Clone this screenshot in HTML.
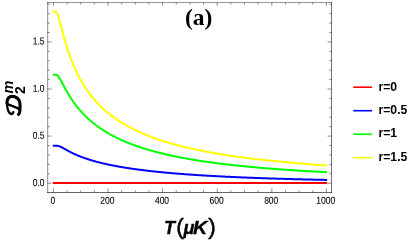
<!DOCTYPE html>
<html><head><meta charset="utf-8"><style>
html,body{margin:0;padding:0;background:#fff;}
svg{display:block;will-change:transform;}
text{font-family:"Liberation Sans",sans-serif;}
</style></head><body>
<svg width="415" height="245" viewBox="0 0 415 245">
<rect width="415" height="245" fill="#fff"/>
<g fill="none" stroke-width="2" stroke-linecap="butt" stroke-linejoin="round">
<path stroke="#ff0000" d="M52.8,183 L327.1,183"/>
<path stroke="#0000ff" d="M52.80,145.69 L53.05,145.69 L53.30,145.69 L53.55,145.69 L53.80,145.69 L54.05,145.69 L54.30,145.69 L54.55,145.69 L54.80,145.69 L55.05,145.69 L55.30,145.69 L55.55,145.69 L55.80,145.69 L56.05,145.70 L56.30,145.70 L56.55,145.71 L56.80,145.73 L57.05,145.75 L57.30,145.78 L57.55,145.81 L57.80,145.85 L58.05,145.90 L58.30,145.95 L58.55,146.02 L58.80,146.09 L59.05,146.17 L59.30,146.25 L59.55,146.34 L59.80,146.43 L60.05,146.54 L60.30,146.64 L60.55,146.75 L60.80,146.87 L61.05,146.98 L61.30,147.11 L61.55,147.23 L61.80,147.36 L62.05,147.49 L62.30,147.62 L62.55,147.75 L62.80,147.89 L63.05,148.02 L63.30,148.16 L63.55,148.30 L63.80,148.44 L64.05,148.57 L64.30,148.71 L64.55,148.85 L64.80,149.00 L65.05,149.14 L65.30,149.28 L65.55,149.42 L65.80,149.56 L66.05,149.70 L66.30,149.84 L66.55,149.97 L66.80,150.11 L67.05,150.25 L67.30,150.39 L67.55,150.53 L67.80,150.66 L68.05,150.80 L68.30,150.93 L68.55,151.07 L68.80,151.20 L69.05,151.33 L69.30,151.47 L69.55,151.60 L69.80,151.73 L70.00,151.83 L70.50,152.09 L71.00,152.34 L71.50,152.59 L72.00,152.84 L72.50,153.09 L73.00,153.33 L73.50,153.57 L74.00,153.80 L74.50,154.03 L75.00,154.26 L75.50,154.48 L76.00,154.71 L76.50,154.92 L77.00,155.14 L77.50,155.35 L78.00,155.56 L78.50,155.77 L79.00,155.97 L79.50,156.18 L80.00,156.38 L80.50,156.57 L81.00,156.77 L81.50,156.96 L82.00,157.15 L82.50,157.33 L83.00,157.52 L83.50,157.70 L84.00,157.88 L84.50,158.05 L85.00,158.23 L85.50,158.40 L86.00,158.57 L86.50,158.74 L87.00,158.91 L87.50,159.07 L88.00,159.23 L88.50,159.40 L89.00,159.55 L89.50,159.71 L90.00,159.87 L90.50,160.02 L91.00,160.17 L91.50,160.32 L92.00,160.47 L92.50,160.62 L93.00,160.76 L93.50,160.91 L94.00,161.05 L94.50,161.19 L95.00,161.33 L95.50,161.46 L96.00,161.60 L96.50,161.73 L97.00,161.87 L97.50,162.00 L98.00,162.13 L98.50,162.26 L99.00,162.39 L99.50,162.51 L100.00,162.64 L100.50,162.76 L101.00,162.88 L101.50,163.01 L102.00,163.13 L102.50,163.25 L103.00,163.36 L103.50,163.48 L104.00,163.60 L104.50,163.71 L105.00,163.82 L105.50,163.94 L106.00,164.05 L106.50,164.16 L107.00,164.27 L107.50,164.38 L108.00,164.48 L108.50,164.59 L109.00,164.70 L109.50,164.80 L110.00,164.90 L110.50,165.01 L111.00,165.11 L111.50,165.21 L112.00,165.31 L112.50,165.41 L113.00,165.51 L113.50,165.60 L114.00,165.70 L114.50,165.80 L115.00,165.89 L115.50,165.99 L116.00,166.08 L116.50,166.17 L117.00,166.26 L117.50,166.35 L118.00,166.44 L118.50,166.53 L119.00,166.62 L119.50,166.71 L120.00,166.80 L120.50,166.89 L121.00,166.97 L121.50,167.06 L122.00,167.14 L122.50,167.23 L123.00,167.31 L123.50,167.39 L124.00,167.47 L124.50,167.55 L125.00,167.64 L125.50,167.72 L126.00,167.80 L126.50,167.87 L127.00,167.95 L127.50,168.03 L128.00,168.11 L128.50,168.18 L129.00,168.26 L129.50,168.33 L130.00,168.41 L130.50,168.48 L131.00,168.56 L131.50,168.63 L132.00,168.70 L132.50,168.78 L133.00,168.85 L133.50,168.92 L134.00,168.99 L134.50,169.06 L135.00,169.13 L135.50,169.20 L136.00,169.27 L136.50,169.33 L137.00,169.40 L137.50,169.47 L138.00,169.53 L138.50,169.60 L139.00,169.67 L139.50,169.73 L140.00,169.80 L140.50,169.86 L141.00,169.92 L141.50,169.99 L142.00,170.05 L142.50,170.11 L143.00,170.18 L143.50,170.24 L144.00,170.30 L144.50,170.36 L145.00,170.42 L145.50,170.48 L146.00,170.54 L146.50,170.60 L147.00,170.66 L147.50,170.72 L148.00,170.77 L148.50,170.83 L149.00,170.89 L149.50,170.95 L150.00,171.00 L150.50,171.06 L151.00,171.12 L151.50,171.17 L152.00,171.23 L152.50,171.28 L153.00,171.34 L153.50,171.39 L154.00,171.44 L154.50,171.50 L155.00,171.55 L155.50,171.60 L156.00,171.65 L156.50,171.71 L157.00,171.76 L157.50,171.81 L158.00,171.86 L158.50,171.91 L159.00,171.96 L159.50,172.01 L160.00,172.06 L160.50,172.11 L161.00,172.16 L161.50,172.21 L162.00,172.26 L162.50,172.31 L163.00,172.35 L163.50,172.40 L164.00,172.45 L164.50,172.50 L165.00,172.54 L165.50,172.59 L166.00,172.64 L166.50,172.68 L167.00,172.73 L167.50,172.77 L168.00,172.82 L168.50,172.86 L169.00,172.91 L169.50,172.95 L170.00,173.00 L170.50,173.04 L171.00,173.08 L171.50,173.13 L172.00,173.17 L172.50,173.21 L173.00,173.26 L173.50,173.30 L174.00,173.34 L174.50,173.38 L175.00,173.42 L175.50,173.47 L176.00,173.51 L176.50,173.55 L177.00,173.59 L177.50,173.63 L178.00,173.67 L178.50,173.71 L179.00,173.75 L179.50,173.79 L180.00,173.83 L180.50,173.87 L181.00,173.91 L181.50,173.95 L182.00,173.98 L182.50,174.02 L183.00,174.06 L183.50,174.10 L184.00,174.14 L184.50,174.17 L185.00,174.21 L185.50,174.25 L186.00,174.28 L186.50,174.32 L187.00,174.36 L187.50,174.39 L188.00,174.43 L188.50,174.47 L189.00,174.50 L189.50,174.54 L190.00,174.57 L190.50,174.61 L191.00,174.64 L191.50,174.68 L192.00,174.71 L192.50,174.74 L193.00,174.78 L193.50,174.81 L194.00,174.85 L194.50,174.88 L195.00,174.91 L195.50,174.95 L196.00,174.98 L196.50,175.01 L197.00,175.05 L197.50,175.08 L198.00,175.11 L198.50,175.14 L199.00,175.17 L199.50,175.21 L200.00,175.24 L200.50,175.27 L201.00,175.30 L201.50,175.33 L202.00,175.36 L202.50,175.39 L203.00,175.42 L203.50,175.46 L204.00,175.49 L204.50,175.52 L205.00,175.55 L205.50,175.58 L206.00,175.61 L206.50,175.64 L207.00,175.66 L207.50,175.69 L208.00,175.72 L208.50,175.75 L209.00,175.78 L209.50,175.81 L210.00,175.84 L210.50,175.87 L211.00,175.90 L211.50,175.92 L212.00,175.95 L212.50,175.98 L213.00,176.01 L213.50,176.03 L214.00,176.06 L214.50,176.09 L215.00,176.12 L215.50,176.14 L216.00,176.17 L216.50,176.20 L217.00,176.22 L217.50,176.25 L218.00,176.28 L218.50,176.30 L219.00,176.33 L219.50,176.36 L220.00,176.38 L220.50,176.41 L221.00,176.43 L221.50,176.46 L222.00,176.48 L222.50,176.51 L223.00,176.53 L223.50,176.56 L224.00,176.58 L224.50,176.61 L225.00,176.63 L225.50,176.66 L226.00,176.68 L226.50,176.71 L227.00,176.73 L227.50,176.75 L228.00,176.78 L228.50,176.80 L229.00,176.83 L229.50,176.85 L230.00,176.87 L230.50,176.90 L231.00,176.92 L231.50,176.94 L232.00,176.97 L232.50,176.99 L233.00,177.01 L233.50,177.04 L234.00,177.06 L234.50,177.08 L235.00,177.10 L235.50,177.12 L236.00,177.15 L236.50,177.17 L237.00,177.19 L237.50,177.21 L238.00,177.24 L238.50,177.26 L239.00,177.28 L239.50,177.30 L240.00,177.32 L240.50,177.34 L241.00,177.36 L241.50,177.38 L242.00,177.41 L242.50,177.43 L243.00,177.45 L243.50,177.47 L244.00,177.49 L244.50,177.51 L245.00,177.53 L245.50,177.55 L246.00,177.57 L246.50,177.59 L247.00,177.61 L247.50,177.63 L248.00,177.65 L248.50,177.67 L249.00,177.69 L249.50,177.71 L250.00,177.73 L250.50,177.75 L251.00,177.77 L251.50,177.79 L252.00,177.81 L252.50,177.83 L253.00,177.85 L253.50,177.86 L254.00,177.88 L254.50,177.90 L255.00,177.92 L255.50,177.94 L256.00,177.96 L256.50,177.98 L257.00,177.99 L257.50,178.01 L258.00,178.03 L258.50,178.05 L259.00,178.07 L259.50,178.09 L260.00,178.10 L260.50,178.12 L261.00,178.14 L261.50,178.16 L262.00,178.17 L262.50,178.19 L263.00,178.21 L263.50,178.23 L264.00,178.24 L264.50,178.26 L265.00,178.28 L265.50,178.29 L266.00,178.31 L266.50,178.33 L267.00,178.35 L267.50,178.36 L268.00,178.38 L268.50,178.40 L269.00,178.41 L269.50,178.43 L270.00,178.44 L270.50,178.46 L271.00,178.48 L271.50,178.49 L272.00,178.51 L272.50,178.53 L273.00,178.54 L273.50,178.56 L274.00,178.57 L274.50,178.59 L275.00,178.61 L275.50,178.62 L276.00,178.64 L276.50,178.65 L277.00,178.67 L277.50,178.68 L278.00,178.70 L278.50,178.71 L279.00,178.73 L279.50,178.74 L280.00,178.76 L280.50,178.77 L281.00,178.79 L281.50,178.80 L282.00,178.82 L282.50,178.83 L283.00,178.85 L283.50,178.86 L284.00,178.88 L284.50,178.89 L285.00,178.91 L285.50,178.92 L286.00,178.93 L286.50,178.95 L287.00,178.96 L287.50,178.98 L288.00,178.99 L288.50,179.01 L289.00,179.02 L289.50,179.03 L290.00,179.05 L290.50,179.06 L291.00,179.07 L291.50,179.09 L292.00,179.10 L292.50,179.12 L293.00,179.13 L293.50,179.14 L294.00,179.16 L294.50,179.17 L295.00,179.18 L295.50,179.20 L296.00,179.21 L296.50,179.22 L297.00,179.24 L297.50,179.25 L298.00,179.26 L298.50,179.27 L299.00,179.29 L299.50,179.30 L300.00,179.31 L300.50,179.33 L301.00,179.34 L301.50,179.35 L302.00,179.36 L302.50,179.38 L303.00,179.39 L303.50,179.40 L304.00,179.41 L304.50,179.43 L305.00,179.44 L305.50,179.45 L306.00,179.46 L306.50,179.47 L307.00,179.49 L307.50,179.50 L308.00,179.51 L308.50,179.52 L309.00,179.53 L309.50,179.55 L310.00,179.56 L310.50,179.57 L311.00,179.58 L311.50,179.59 L312.00,179.61 L312.50,179.62 L313.00,179.63 L313.50,179.64 L314.00,179.65 L314.50,179.66 L315.00,179.67 L315.50,179.69 L316.00,179.70 L316.50,179.71 L317.00,179.72 L317.50,179.73 L318.00,179.74 L318.50,179.75 L319.00,179.76 L319.50,179.77 L320.00,179.79 L320.50,179.80 L321.00,179.81 L321.50,179.82 L322.00,179.83 L322.50,179.84 L323.00,179.85 L323.50,179.86 L324.00,179.87 L324.50,179.88 L325.00,179.89 L325.50,179.90 L326.00,179.91 L326.50,179.92 L327.00,179.93 L327.10,179.94"/>
<path stroke="#00ff00" d="M52.80,74.67 L53.05,74.67 L53.30,74.67 L53.55,74.67 L53.80,74.67 L54.05,74.67 L54.30,74.67 L54.55,74.67 L54.80,74.67 L55.05,74.67 L55.30,74.67 L55.55,74.69 L55.80,74.71 L56.05,74.76 L56.30,74.83 L56.55,74.92 L56.80,75.05 L57.05,75.20 L57.30,75.39 L57.55,75.61 L57.80,75.85 L58.05,76.13 L58.30,76.43 L58.55,76.75 L58.80,77.09 L59.05,77.46 L59.30,77.84 L59.55,78.23 L59.80,78.64 L60.05,79.06 L60.30,79.49 L60.55,79.93 L60.80,80.38 L61.05,80.83 L61.30,81.29 L61.55,81.75 L61.80,82.21 L62.05,82.68 L62.30,83.15 L62.55,83.62 L62.80,84.09 L63.05,84.56 L63.30,85.03 L63.55,85.50 L63.80,85.97 L64.05,86.44 L64.30,86.90 L64.55,87.37 L64.80,87.83 L65.05,88.29 L65.30,88.74 L65.55,89.20 L65.80,89.65 L66.05,90.09 L66.30,90.54 L66.55,90.98 L66.80,91.42 L67.05,91.86 L67.30,92.29 L67.55,92.72 L67.80,93.15 L68.05,93.57 L68.30,93.99 L68.55,94.40 L68.80,94.82 L69.05,95.23 L69.30,95.63 L69.55,96.04 L69.80,96.44 L70.00,96.76 L70.50,97.54 L71.00,98.31 L71.50,99.07 L72.00,99.82 L72.50,100.56 L73.00,101.28 L73.50,101.99 L74.00,102.69 L74.50,103.38 L75.00,104.06 L75.50,104.73 L76.00,105.38 L76.50,106.03 L77.00,106.66 L77.50,107.29 L78.00,107.91 L78.50,108.51 L79.00,109.11 L79.50,109.70 L80.00,110.28 L80.50,110.85 L81.00,111.42 L81.50,111.97 L82.00,112.52 L82.50,113.06 L83.00,113.59 L83.50,114.11 L84.00,114.63 L84.50,115.14 L85.00,115.64 L85.50,116.14 L86.00,116.63 L86.50,117.11 L87.00,117.59 L87.50,118.06 L88.00,118.52 L88.50,118.98 L89.00,119.43 L89.50,119.87 L90.00,120.31 L90.50,120.75 L91.00,121.18 L91.50,121.60 L92.00,122.02 L92.50,122.43 L93.00,122.84 L93.50,123.24 L94.00,123.64 L94.50,124.04 L95.00,124.42 L95.50,124.81 L96.00,125.19 L96.50,125.56 L97.00,125.93 L97.50,126.30 L98.00,126.66 L98.50,127.02 L99.00,127.38 L99.50,127.73 L100.00,128.07 L100.50,128.42 L101.00,128.76 L101.50,129.09 L102.00,129.42 L102.50,129.75 L103.00,130.08 L103.50,130.40 L104.00,130.71 L104.50,131.03 L105.00,131.34 L105.50,131.65 L106.00,131.95 L106.50,132.25 L107.00,132.55 L107.50,132.85 L108.00,133.14 L108.50,133.43 L109.00,133.71 L109.50,134.00 L110.00,134.28 L110.50,134.56 L111.00,134.83 L111.50,135.10 L112.00,135.37 L112.50,135.64 L113.00,135.91 L113.50,136.17 L114.00,136.43 L114.50,136.69 L115.00,136.94 L115.50,137.19 L116.00,137.44 L116.50,137.69 L117.00,137.94 L117.50,138.18 L118.00,138.42 L118.50,138.66 L119.00,138.90 L119.50,139.13 L120.00,139.36 L120.50,139.59 L121.00,139.82 L121.50,140.05 L122.00,140.27 L122.50,140.49 L123.00,140.71 L123.50,140.93 L124.00,141.15 L124.50,141.36 L125.00,141.58 L125.50,141.79 L126.00,142.00 L126.50,142.20 L127.00,142.41 L127.50,142.61 L128.00,142.82 L128.50,143.02 L129.00,143.22 L129.50,143.41 L130.00,143.61 L130.50,143.80 L131.00,143.99 L131.50,144.18 L132.00,144.37 L132.50,144.56 L133.00,144.75 L133.50,144.93 L134.00,145.12 L134.50,145.30 L135.00,145.48 L135.50,145.66 L136.00,145.83 L136.50,146.01 L137.00,146.18 L137.50,146.36 L138.00,146.53 L138.50,146.70 L139.00,146.87 L139.50,147.04 L140.00,147.20 L140.50,147.37 L141.00,147.53 L141.50,147.70 L142.00,147.86 L142.50,148.02 L143.00,148.18 L143.50,148.34 L144.00,148.49 L144.50,148.65 L145.00,148.80 L145.50,148.96 L146.00,149.11 L146.50,149.26 L147.00,149.41 L147.50,149.56 L148.00,149.71 L148.50,149.86 L149.00,150.00 L149.50,150.15 L150.00,150.29 L150.50,150.43 L151.00,150.58 L151.50,150.72 L152.00,150.86 L152.50,150.99 L153.00,151.13 L153.50,151.27 L154.00,151.41 L154.50,151.54 L155.00,151.67 L155.50,151.81 L156.00,151.94 L156.50,152.07 L157.00,152.20 L157.50,152.33 L158.00,152.46 L158.50,152.59 L159.00,152.71 L159.50,152.84 L160.00,152.97 L160.50,153.09 L161.00,153.21 L161.50,153.34 L162.00,153.46 L162.50,153.58 L163.00,153.70 L163.50,153.82 L164.00,153.94 L164.50,154.06 L165.00,154.17 L165.50,154.29 L166.00,154.40 L166.50,154.52 L167.00,154.63 L167.50,154.75 L168.00,154.86 L168.50,154.97 L169.00,155.08 L169.50,155.19 L170.00,155.30 L170.50,155.41 L171.00,155.52 L171.50,155.63 L172.00,155.74 L172.50,155.84 L173.00,155.95 L173.50,156.05 L174.00,156.16 L174.50,156.26 L175.00,156.37 L175.50,156.47 L176.00,156.57 L176.50,156.67 L177.00,156.77 L177.50,156.87 L178.00,156.97 L178.50,157.07 L179.00,157.17 L179.50,157.27 L180.00,157.36 L180.50,157.46 L181.00,157.56 L181.50,157.65 L182.00,157.75 L182.50,157.84 L183.00,157.93 L183.50,158.03 L184.00,158.12 L184.50,158.21 L185.00,158.30 L185.50,158.39 L186.00,158.48 L186.50,158.57 L187.00,158.66 L187.50,158.75 L188.00,158.84 L188.50,158.93 L189.00,159.02 L189.50,159.10 L190.00,159.19 L190.50,159.28 L191.00,159.36 L191.50,159.45 L192.00,159.53 L192.50,159.61 L193.00,159.70 L193.50,159.78 L194.00,159.86 L194.50,159.95 L195.00,160.03 L195.50,160.11 L196.00,160.19 L196.50,160.27 L197.00,160.35 L197.50,160.43 L198.00,160.51 L198.50,160.59 L199.00,160.66 L199.50,160.74 L200.00,160.82 L200.50,160.90 L201.00,160.97 L201.50,161.05 L202.00,161.12 L202.50,161.20 L203.00,161.27 L203.50,161.35 L204.00,161.42 L204.50,161.50 L205.00,161.57 L205.50,161.64 L206.00,161.71 L206.50,161.79 L207.00,161.86 L207.50,161.93 L208.00,162.00 L208.50,162.07 L209.00,162.14 L209.50,162.21 L210.00,162.28 L210.50,162.35 L211.00,162.42 L211.50,162.48 L212.00,162.55 L212.50,162.62 L213.00,162.69 L213.50,162.75 L214.00,162.82 L214.50,162.89 L215.00,162.95 L215.50,163.02 L216.00,163.08 L216.50,163.15 L217.00,163.21 L217.50,163.28 L218.00,163.34 L218.50,163.41 L219.00,163.47 L219.50,163.53 L220.00,163.59 L220.50,163.66 L221.00,163.72 L221.50,163.78 L222.00,163.84 L222.50,163.90 L223.00,163.96 L223.50,164.02 L224.00,164.08 L224.50,164.14 L225.00,164.20 L225.50,164.26 L226.00,164.32 L226.50,164.38 L227.00,164.44 L227.50,164.50 L228.00,164.56 L228.50,164.61 L229.00,164.67 L229.50,164.73 L230.00,164.78 L230.50,164.84 L231.00,164.90 L231.50,164.95 L232.00,165.01 L232.50,165.06 L233.00,165.12 L233.50,165.17 L234.00,165.23 L234.50,165.28 L235.00,165.34 L235.50,165.39 L236.00,165.44 L236.50,165.50 L237.00,165.55 L237.50,165.60 L238.00,165.66 L238.50,165.71 L239.00,165.76 L239.50,165.81 L240.00,165.86 L240.50,165.92 L241.00,165.97 L241.50,166.02 L242.00,166.07 L242.50,166.12 L243.00,166.17 L243.50,166.22 L244.00,166.27 L244.50,166.32 L245.00,166.37 L245.50,166.42 L246.00,166.47 L246.50,166.52 L247.00,166.56 L247.50,166.61 L248.00,166.66 L248.50,166.71 L249.00,166.76 L249.50,166.80 L250.00,166.85 L250.50,166.90 L251.00,166.94 L251.50,166.99 L252.00,167.04 L252.50,167.08 L253.00,167.13 L253.50,167.17 L254.00,167.22 L254.50,167.26 L255.00,167.31 L255.50,167.35 L256.00,167.40 L256.50,167.44 L257.00,167.49 L257.50,167.53 L258.00,167.58 L258.50,167.62 L259.00,167.66 L259.50,167.71 L260.00,167.75 L260.50,167.79 L261.00,167.84 L261.50,167.88 L262.00,167.92 L262.50,167.96 L263.00,168.01 L263.50,168.05 L264.00,168.09 L264.50,168.13 L265.00,168.17 L265.50,168.21 L266.00,168.25 L266.50,168.29 L267.00,168.34 L267.50,168.38 L268.00,168.42 L268.50,168.46 L269.00,168.50 L269.50,168.54 L270.00,168.58 L270.50,168.62 L271.00,168.65 L271.50,168.69 L272.00,168.73 L272.50,168.77 L273.00,168.81 L273.50,168.85 L274.00,168.89 L274.50,168.93 L275.00,168.96 L275.50,169.00 L276.00,169.04 L276.50,169.08 L277.00,169.11 L277.50,169.15 L278.00,169.19 L278.50,169.23 L279.00,169.26 L279.50,169.30 L280.00,169.34 L280.50,169.37 L281.00,169.41 L281.50,169.44 L282.00,169.48 L282.50,169.52 L283.00,169.55 L283.50,169.59 L284.00,169.62 L284.50,169.66 L285.00,169.69 L285.50,169.73 L286.00,169.76 L286.50,169.80 L287.00,169.83 L287.50,169.87 L288.00,169.90 L288.50,169.93 L289.00,169.97 L289.50,170.00 L290.00,170.04 L290.50,170.07 L291.00,170.10 L291.50,170.14 L292.00,170.17 L292.50,170.20 L293.00,170.23 L293.50,170.27 L294.00,170.30 L294.50,170.33 L295.00,170.37 L295.50,170.40 L296.00,170.43 L296.50,170.46 L297.00,170.49 L297.50,170.53 L298.00,170.56 L298.50,170.59 L299.00,170.62 L299.50,170.65 L300.00,170.68 L300.50,170.71 L301.00,170.74 L301.50,170.78 L302.00,170.81 L302.50,170.84 L303.00,170.87 L303.50,170.90 L304.00,170.93 L304.50,170.96 L305.00,170.99 L305.50,171.02 L306.00,171.05 L306.50,171.08 L307.00,171.11 L307.50,171.14 L308.00,171.17 L308.50,171.19 L309.00,171.22 L309.50,171.25 L310.00,171.28 L310.50,171.31 L311.00,171.34 L311.50,171.37 L312.00,171.40 L312.50,171.42 L313.00,171.45 L313.50,171.48 L314.00,171.51 L314.50,171.54 L315.00,171.57 L315.50,171.59 L316.00,171.62 L316.50,171.65 L317.00,171.68 L317.50,171.70 L318.00,171.73 L318.50,171.76 L319.00,171.78 L319.50,171.81 L320.00,171.84 L320.50,171.87 L321.00,171.89 L321.50,171.92 L322.00,171.94 L322.50,171.97 L323.00,172.00 L323.50,172.02 L324.00,172.05 L324.50,172.08 L325.00,172.10 L325.50,172.13 L326.00,172.15 L326.50,172.18 L327.00,172.20 L327.10,172.21"/>
<path stroke="#ffff00" d="M52.80,11.59 L53.05,11.59 L53.30,11.59 L53.55,11.59 L53.80,11.59 L54.05,11.59 L54.30,11.59 L54.55,11.59 L54.80,11.59 L55.05,11.60 L55.30,11.63 L55.55,11.68 L55.80,11.78 L56.05,11.94 L56.30,12.16 L56.55,12.46 L56.80,12.83 L57.05,13.27 L57.30,13.79 L57.55,14.36 L57.80,15.00 L58.05,15.69 L58.30,16.43 L58.55,17.22 L58.80,18.03 L59.05,18.88 L59.30,19.76 L59.55,20.65 L59.80,21.56 L60.05,22.49 L60.30,23.43 L60.55,24.37 L60.80,25.33 L61.05,26.28 L61.30,27.23 L61.55,28.19 L61.80,29.14 L62.05,30.09 L62.30,31.04 L62.55,31.98 L62.80,32.92 L63.05,33.84 L63.30,34.77 L63.55,35.68 L63.80,36.59 L64.05,37.49 L64.30,38.38 L64.55,39.26 L64.80,40.13 L65.05,40.99 L65.30,41.85 L65.55,42.69 L65.80,43.53 L66.05,44.36 L66.30,45.17 L66.55,45.98 L66.80,46.78 L67.05,47.57 L67.30,48.35 L67.55,49.13 L67.80,49.89 L68.05,50.65 L68.30,51.39 L68.55,52.13 L68.80,52.86 L69.05,53.58 L69.30,54.30 L69.55,55.00 L69.80,55.70 L70.00,56.25 L70.50,57.61 L71.00,58.94 L71.50,60.24 L72.00,61.51 L72.50,62.76 L73.00,63.97 L73.50,65.17 L74.00,66.33 L74.50,67.48 L75.00,68.60 L75.50,69.69 L76.00,70.77 L76.50,71.82 L77.00,72.85 L77.50,73.87 L78.00,74.86 L78.50,75.84 L79.00,76.79 L79.50,77.73 L80.00,78.65 L80.50,79.56 L81.00,80.45 L81.50,81.32 L82.00,82.18 L82.50,83.02 L83.00,83.85 L83.50,84.66 L84.00,85.47 L84.50,86.25 L85.00,87.03 L85.50,87.79 L86.00,88.54 L86.50,89.28 L87.00,90.00 L87.50,90.72 L88.00,91.42 L88.50,92.11 L89.00,92.80 L89.50,93.47 L90.00,94.13 L90.50,94.78 L91.00,95.43 L91.50,96.06 L92.00,96.68 L92.50,97.30 L93.00,97.91 L93.50,98.50 L94.00,99.09 L94.50,99.68 L95.00,100.25 L95.50,100.81 L96.00,101.37 L96.50,101.92 L97.00,102.47 L97.50,103.00 L98.00,103.53 L98.50,104.06 L99.00,104.57 L99.50,105.08 L100.00,105.58 L100.50,106.08 L101.00,106.57 L101.50,107.05 L102.00,107.53 L102.50,108.00 L103.00,108.47 L103.50,108.93 L104.00,109.39 L104.50,109.84 L105.00,110.28 L105.50,110.72 L106.00,111.16 L106.50,111.59 L107.00,112.01 L107.50,112.43 L108.00,112.85 L108.50,113.26 L109.00,113.66 L109.50,114.06 L110.00,114.46 L110.50,114.85 L111.00,115.24 L111.50,115.62 L112.00,116.00 L112.50,116.38 L113.00,116.75 L113.50,117.12 L114.00,117.48 L114.50,117.84 L115.00,118.20 L115.50,118.55 L116.00,118.90 L116.50,119.25 L117.00,119.59 L117.50,119.93 L118.00,120.26 L118.50,120.59 L119.00,120.92 L119.50,121.25 L120.00,121.57 L120.50,121.89 L121.00,122.20 L121.50,122.52 L122.00,122.83 L122.50,123.13 L123.00,123.44 L123.50,123.74 L124.00,124.04 L124.50,124.33 L125.00,124.62 L125.50,124.91 L126.00,125.20 L126.50,125.48 L127.00,125.77 L127.50,126.05 L128.00,126.32 L128.50,126.60 L129.00,126.87 L129.50,127.14 L130.00,127.41 L130.50,127.67 L131.00,127.93 L131.50,128.19 L132.00,128.45 L132.50,128.71 L133.00,128.96 L133.50,129.21 L134.00,129.46 L134.50,129.71 L135.00,129.95 L135.50,130.19 L136.00,130.43 L136.50,130.67 L137.00,130.91 L137.50,131.15 L138.00,131.38 L138.50,131.61 L139.00,131.84 L139.50,132.06 L140.00,132.29 L140.50,132.51 L141.00,132.74 L141.50,132.96 L142.00,133.17 L142.50,133.39 L143.00,133.60 L143.50,133.82 L144.00,134.03 L144.50,134.24 L145.00,134.45 L145.50,134.65 L146.00,134.86 L146.50,135.06 L147.00,135.26 L147.50,135.46 L148.00,135.66 L148.50,135.86 L149.00,136.05 L149.50,136.25 L150.00,136.44 L150.50,136.63 L151.00,136.82 L151.50,137.01 L152.00,137.20 L152.50,137.38 L153.00,137.57 L153.50,137.75 L154.00,137.93 L154.50,138.11 L155.00,138.29 L155.50,138.47 L156.00,138.64 L156.50,138.82 L157.00,138.99 L157.50,139.17 L158.00,139.34 L158.50,139.51 L159.00,139.68 L159.50,139.85 L160.00,140.01 L160.50,140.18 L161.00,140.34 L161.50,140.51 L162.00,140.67 L162.50,140.83 L163.00,140.99 L163.50,141.15 L164.00,141.31 L164.50,141.46 L165.00,141.62 L165.50,141.77 L166.00,141.93 L166.50,142.08 L167.00,142.23 L167.50,142.38 L168.00,142.53 L168.50,142.68 L169.00,142.83 L169.50,142.97 L170.00,143.12 L170.50,143.26 L171.00,143.41 L171.50,143.55 L172.00,143.69 L172.50,143.83 L173.00,143.97 L173.50,144.11 L174.00,144.25 L174.50,144.39 L175.00,144.52 L175.50,144.66 L176.00,144.80 L176.50,144.93 L177.00,145.06 L177.50,145.19 L178.00,145.33 L178.50,145.46 L179.00,145.59 L179.50,145.72 L180.00,145.84 L180.50,145.97 L181.00,146.10 L181.50,146.22 L182.00,146.35 L182.50,146.47 L183.00,146.60 L183.50,146.72 L184.00,146.84 L184.50,146.97 L185.00,147.09 L185.50,147.21 L186.00,147.33 L186.50,147.44 L187.00,147.56 L187.50,147.68 L188.00,147.80 L188.50,147.91 L189.00,148.03 L189.50,148.14 L190.00,148.26 L190.50,148.37 L191.00,148.48 L191.50,148.59 L192.00,148.71 L192.50,148.82 L193.00,148.93 L193.50,149.04 L194.00,149.14 L194.50,149.25 L195.00,149.36 L195.50,149.47 L196.00,149.57 L196.50,149.68 L197.00,149.78 L197.50,149.89 L198.00,149.99 L198.50,150.10 L199.00,150.20 L199.50,150.30 L200.00,150.40 L200.50,150.50 L201.00,150.61 L201.50,150.71 L202.00,150.81 L202.50,150.90 L203.00,151.00 L203.50,151.10 L204.00,151.20 L204.50,151.30 L205.00,151.39 L205.50,151.49 L206.00,151.58 L206.50,151.68 L207.00,151.77 L207.50,151.87 L208.00,151.96 L208.50,152.05 L209.00,152.14 L209.50,152.24 L210.00,152.33 L210.50,152.42 L211.00,152.51 L211.50,152.60 L212.00,152.69 L212.50,152.78 L213.00,152.87 L213.50,152.96 L214.00,153.04 L214.50,153.13 L215.00,153.22 L215.50,153.30 L216.00,153.39 L216.50,153.48 L217.00,153.56 L217.50,153.65 L218.00,153.73 L218.50,153.81 L219.00,153.90 L219.50,153.98 L220.00,154.06 L220.50,154.14 L221.00,154.23 L221.50,154.31 L222.00,154.39 L222.50,154.47 L223.00,154.55 L223.50,154.63 L224.00,154.71 L224.50,154.79 L225.00,154.87 L225.50,154.94 L226.00,155.02 L226.50,155.10 L227.00,155.18 L227.50,155.25 L228.00,155.33 L228.50,155.41 L229.00,155.48 L229.50,155.56 L230.00,155.63 L230.50,155.71 L231.00,155.78 L231.50,155.86 L232.00,155.93 L232.50,156.00 L233.00,156.07 L233.50,156.15 L234.00,156.22 L234.50,156.29 L235.00,156.36 L235.50,156.43 L236.00,156.50 L236.50,156.58 L237.00,156.65 L237.50,156.72 L238.00,156.78 L238.50,156.85 L239.00,156.92 L239.50,156.99 L240.00,157.06 L240.50,157.13 L241.00,157.20 L241.50,157.26 L242.00,157.33 L242.50,157.40 L243.00,157.46 L243.50,157.53 L244.00,157.60 L244.50,157.66 L245.00,157.73 L245.50,157.79 L246.00,157.86 L246.50,157.92 L247.00,157.98 L247.50,158.05 L248.00,158.11 L248.50,158.17 L249.00,158.24 L249.50,158.30 L250.00,158.36 L250.50,158.43 L251.00,158.49 L251.50,158.55 L252.00,158.61 L252.50,158.67 L253.00,158.73 L253.50,158.79 L254.00,158.85 L254.50,158.91 L255.00,158.97 L255.50,159.03 L256.00,159.09 L256.50,159.15 L257.00,159.21 L257.50,159.27 L258.00,159.33 L258.50,159.38 L259.00,159.44 L259.50,159.50 L260.00,159.56 L260.50,159.61 L261.00,159.67 L261.50,159.73 L262.00,159.78 L262.50,159.84 L263.00,159.90 L263.50,159.95 L264.00,160.01 L264.50,160.06 L265.00,160.12 L265.50,160.17 L266.00,160.23 L266.50,160.28 L267.00,160.34 L267.50,160.39 L268.00,160.44 L268.50,160.50 L269.00,160.55 L269.50,160.60 L270.00,160.66 L270.50,160.71 L271.00,160.76 L271.50,160.81 L272.00,160.86 L272.50,160.92 L273.00,160.97 L273.50,161.02 L274.00,161.07 L274.50,161.12 L275.00,161.17 L275.50,161.22 L276.00,161.27 L276.50,161.32 L277.00,161.37 L277.50,161.42 L278.00,161.47 L278.50,161.52 L279.00,161.57 L279.50,161.62 L280.00,161.67 L280.50,161.72 L281.00,161.76 L281.50,161.81 L282.00,161.86 L282.50,161.91 L283.00,161.96 L283.50,162.00 L284.00,162.05 L284.50,162.10 L285.00,162.14 L285.50,162.19 L286.00,162.24 L286.50,162.28 L287.00,162.33 L287.50,162.38 L288.00,162.42 L288.50,162.47 L289.00,162.51 L289.50,162.56 L290.00,162.60 L290.50,162.65 L291.00,162.69 L291.50,162.74 L292.00,162.78 L292.50,162.83 L293.00,162.87 L293.50,162.92 L294.00,162.96 L294.50,163.00 L295.00,163.05 L295.50,163.09 L296.00,163.13 L296.50,163.18 L297.00,163.22 L297.50,163.26 L298.00,163.30 L298.50,163.35 L299.00,163.39 L299.50,163.43 L300.00,163.47 L300.50,163.51 L301.00,163.56 L301.50,163.60 L302.00,163.64 L302.50,163.68 L303.00,163.72 L303.50,163.76 L304.00,163.80 L304.50,163.84 L305.00,163.88 L305.50,163.92 L306.00,163.96 L306.50,164.00 L307.00,164.04 L307.50,164.08 L308.00,164.12 L308.50,164.16 L309.00,164.20 L309.50,164.24 L310.00,164.28 L310.50,164.32 L311.00,164.36 L311.50,164.40 L312.00,164.43 L312.50,164.47 L313.00,164.51 L313.50,164.55 L314.00,164.59 L314.50,164.62 L315.00,164.66 L315.50,164.70 L316.00,164.74 L316.50,164.77 L317.00,164.81 L317.50,164.85 L318.00,164.89 L318.50,164.92 L319.00,164.96 L319.50,165.00 L320.00,165.03 L320.50,165.07 L321.00,165.10 L321.50,165.14 L322.00,165.18 L322.50,165.21 L323.00,165.25 L323.50,165.28 L324.00,165.32 L324.50,165.35 L325.00,165.39 L325.50,165.42 L326.00,165.46 L326.50,165.49 L327.00,165.53 L327.10,165.54"/>
</g>
<g stroke="#000" stroke-width="1" stroke-linecap="square">
<line x1="47.5" y1="2.5" x2="331.5" y2="2.5" stroke-opacity="0.42"/>
<line x1="47.7" y1="2.5" x2="47.7" y2="192.5" stroke-opacity="0.45"/>
<line x1="47.5" y1="192.5" x2="331.5" y2="192.5" stroke-opacity="0.6"/>
<line x1="331.5" y1="2.5" x2="331.5" y2="192.5" stroke-opacity="0.55"/>
</g>
<g stroke="#000" stroke-opacity="0.5" stroke-width="0.9"><line x1="53.40" y1="192.5" x2="53.40" y2="188.5"/><line x1="53.40" y1="2.5" x2="53.40" y2="5.9"/><line x1="67.05" y1="192.5" x2="67.05" y2="190.3"/><line x1="67.05" y1="2.5" x2="67.05" y2="4.5"/><line x1="80.70" y1="192.5" x2="80.70" y2="190.3"/><line x1="80.70" y1="2.5" x2="80.70" y2="4.5"/><line x1="94.35" y1="192.5" x2="94.35" y2="190.3"/><line x1="94.35" y1="2.5" x2="94.35" y2="4.5"/><line x1="108.00" y1="192.5" x2="108.00" y2="188.5"/><line x1="108.00" y1="2.5" x2="108.00" y2="5.9"/><line x1="121.65" y1="192.5" x2="121.65" y2="190.3"/><line x1="121.65" y1="2.5" x2="121.65" y2="4.5"/><line x1="135.30" y1="192.5" x2="135.30" y2="190.3"/><line x1="135.30" y1="2.5" x2="135.30" y2="4.5"/><line x1="148.95" y1="192.5" x2="148.95" y2="190.3"/><line x1="148.95" y1="2.5" x2="148.95" y2="4.5"/><line x1="162.60" y1="192.5" x2="162.60" y2="188.5"/><line x1="162.60" y1="2.5" x2="162.60" y2="5.9"/><line x1="176.25" y1="192.5" x2="176.25" y2="190.3"/><line x1="176.25" y1="2.5" x2="176.25" y2="4.5"/><line x1="189.90" y1="192.5" x2="189.90" y2="190.3"/><line x1="189.90" y1="2.5" x2="189.90" y2="4.5"/><line x1="203.55" y1="192.5" x2="203.55" y2="190.3"/><line x1="203.55" y1="2.5" x2="203.55" y2="4.5"/><line x1="217.20" y1="192.5" x2="217.20" y2="188.5"/><line x1="217.20" y1="2.5" x2="217.20" y2="5.9"/><line x1="230.85" y1="192.5" x2="230.85" y2="190.3"/><line x1="230.85" y1="2.5" x2="230.85" y2="4.5"/><line x1="244.50" y1="192.5" x2="244.50" y2="190.3"/><line x1="244.50" y1="2.5" x2="244.50" y2="4.5"/><line x1="258.15" y1="192.5" x2="258.15" y2="190.3"/><line x1="258.15" y1="2.5" x2="258.15" y2="4.5"/><line x1="271.80" y1="192.5" x2="271.80" y2="188.5"/><line x1="271.80" y1="2.5" x2="271.80" y2="5.9"/><line x1="285.45" y1="192.5" x2="285.45" y2="190.3"/><line x1="285.45" y1="2.5" x2="285.45" y2="4.5"/><line x1="299.10" y1="192.5" x2="299.10" y2="190.3"/><line x1="299.10" y1="2.5" x2="299.10" y2="4.5"/><line x1="312.75" y1="192.5" x2="312.75" y2="190.3"/><line x1="312.75" y1="2.5" x2="312.75" y2="4.5"/><line x1="326.40" y1="192.5" x2="326.40" y2="188.5"/><line x1="326.40" y1="2.5" x2="326.40" y2="5.9"/><line x1="47.5" y1="183.20" x2="51.5" y2="183.20"/><line x1="331.5" y1="183.20" x2="327.5" y2="183.20"/><line x1="47.5" y1="173.78" x2="49.7" y2="173.78"/><line x1="331.5" y1="173.78" x2="329.3" y2="173.78"/><line x1="47.5" y1="164.36" x2="49.7" y2="164.36"/><line x1="331.5" y1="164.36" x2="329.3" y2="164.36"/><line x1="47.5" y1="154.94" x2="49.7" y2="154.94"/><line x1="331.5" y1="154.94" x2="329.3" y2="154.94"/><line x1="47.5" y1="145.52" x2="49.7" y2="145.52"/><line x1="331.5" y1="145.52" x2="329.3" y2="145.52"/><line x1="47.5" y1="136.10" x2="51.5" y2="136.10"/><line x1="331.5" y1="136.10" x2="327.5" y2="136.10"/><line x1="47.5" y1="126.68" x2="49.7" y2="126.68"/><line x1="331.5" y1="126.68" x2="329.3" y2="126.68"/><line x1="47.5" y1="117.26" x2="49.7" y2="117.26"/><line x1="331.5" y1="117.26" x2="329.3" y2="117.26"/><line x1="47.5" y1="107.84" x2="49.7" y2="107.84"/><line x1="331.5" y1="107.84" x2="329.3" y2="107.84"/><line x1="47.5" y1="98.42" x2="49.7" y2="98.42"/><line x1="331.5" y1="98.42" x2="329.3" y2="98.42"/><line x1="47.5" y1="89.00" x2="51.5" y2="89.00"/><line x1="331.5" y1="89.00" x2="327.5" y2="89.00"/><line x1="47.5" y1="79.58" x2="49.7" y2="79.58"/><line x1="331.5" y1="79.58" x2="329.3" y2="79.58"/><line x1="47.5" y1="70.16" x2="49.7" y2="70.16"/><line x1="331.5" y1="70.16" x2="329.3" y2="70.16"/><line x1="47.5" y1="60.74" x2="49.7" y2="60.74"/><line x1="331.5" y1="60.74" x2="329.3" y2="60.74"/><line x1="47.5" y1="51.32" x2="49.7" y2="51.32"/><line x1="331.5" y1="51.32" x2="329.3" y2="51.32"/><line x1="47.5" y1="41.90" x2="51.5" y2="41.90"/><line x1="331.5" y1="41.90" x2="327.5" y2="41.90"/><line x1="47.5" y1="32.48" x2="49.7" y2="32.48"/><line x1="331.5" y1="32.48" x2="329.3" y2="32.48"/><line x1="47.5" y1="23.06" x2="49.7" y2="23.06"/><line x1="331.5" y1="23.06" x2="329.3" y2="23.06"/><line x1="47.5" y1="13.64" x2="49.7" y2="13.64"/><line x1="331.5" y1="13.64" x2="329.3" y2="13.64"/><line x1="47.5" y1="4.22" x2="49.7" y2="4.22"/><line x1="331.5" y1="4.22" x2="329.3" y2="4.22"/></g>
<g font-size="10.1" fill="#000" stroke="#000" stroke-width="0.1" text-rendering="geometricPrecision"><text transform="translate(52.8,203.7) scale(0.84,1) rotate(0.03)" text-anchor="middle">0</text><text transform="translate(107.4,203.7) scale(0.84,1) rotate(0.03)" text-anchor="middle">200</text><text transform="translate(162.0,203.7) scale(0.84,1) rotate(0.03)" text-anchor="middle">400</text><text transform="translate(216.6,203.7) scale(0.84,1) rotate(0.03)" text-anchor="middle">600</text><text transform="translate(271.2,203.7) scale(0.84,1) rotate(0.03)" text-anchor="middle">800</text><text transform="translate(325.8,203.7) scale(0.84,1) rotate(0.03)" text-anchor="middle">1000</text><text transform="translate(44.5,185.9) scale(0.84,1) rotate(0.03)" text-anchor="end">0.0</text><text transform="translate(44.5,138.8) scale(0.84,1) rotate(0.03)" text-anchor="end">0.5</text><text transform="translate(44.5,91.7) scale(0.84,1) rotate(0.03)" text-anchor="end">1.0</text><text transform="translate(44.5,44.6) scale(0.84,1) rotate(0.03)" text-anchor="end">1.5</text></g>
<text x="198.6" y="24.6" text-anchor="middle" font-size="23.5" font-weight="bold" style="font-family:'Liberation Serif',serif">(a)</text>
<g font-weight="bold" font-style="italic" font-size="18" fill="#000" stroke="#000" stroke-width="0.35">
<text transform="translate(164.0,234.0)">T</text>
<text transform="translate(176.2,234.4)" font-size="22.5" font-style="normal" font-weight="normal" stroke-width="0.5">(</text>
<text transform="translate(183.6,234.0)">μ</text>
<text transform="translate(193.0,234.0) scale(1.1,1)">K</text>
<text transform="translate(208.2,234.4)" font-size="22.5" font-style="normal" font-weight="normal" stroke-width="0.5">)</text>
</g>
<g transform="translate(5.1,116) rotate(-90)">

<g fill="none" stroke="#000" stroke-linecap="round" stroke-linejoin="round" transform="translate(0.5,1.1) scale(0.92,0.87)">
<path stroke-width="2.6" d="M3.6,8.2 C2.2,7.8 1.4,6.6 1.8,5.4 C2.4,3.4 4.8,2.2 7,1.7 C9.4,1.1 11.6,0.9 13.4,0.9"/>
<path stroke-width="3.6" d="M13.4,0.9 C16.8,0.9 19.4,2.2 20.3,4.6 C21.2,7 20.8,10 19,12.6 C17.2,15 14.4,15.9 11.4,15.9 L5,15.7 C3.2,15.6 1.8,15.2 1.3,14.2"/>
<path stroke-width="2.6" d="M12.2,2.2 L8.2,12.4 C7.8,13.6 7.2,14.8 6.2,15.5"/>
</g>

<text x="22.4" y="7.6" font-size="14.6" font-weight="bold" font-style="italic">m</text>
<text x="22.0" y="20.4" font-size="14" font-weight="bold">2</text>
</g>
<g stroke-width="1.6">
<line x1="353.2" y1="87.2" x2="372.1" y2="87.2" stroke="#ff0000"/>
<line x1="353.2" y1="110.7" x2="372.1" y2="110.7" stroke="#0000ff"/>
<line x1="353.2" y1="134.2" x2="372.1" y2="134.2" stroke="#00ff00"/>
<line x1="353.2" y1="157.7" x2="372.1" y2="157.7" stroke="#ffff00"/>
</g>
<g font-size="12.2" font-weight="bold" fill="#000">
<text x="378.5" y="90.8">r=0</text>
<text x="378.5" y="114.2">r=0.5</text>
<text x="378.5" y="137.2">r=1</text>
<text x="378.5" y="160.7">r=1.5</text>
</g>
</svg>
</body></html>
